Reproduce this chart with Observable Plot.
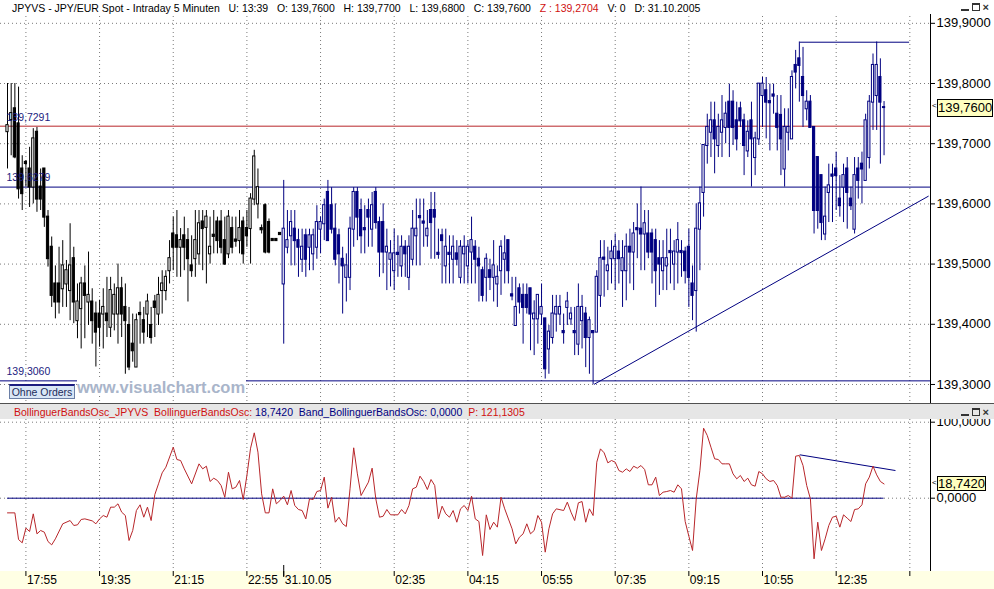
<!DOCTYPE html>
<html><head><meta charset="utf-8">
<script src="https://cdn.jsdelivr.net/npm/d3@7"></script>
<script src="https://cdn.jsdelivr.net/npm/@observablehq/plot@0.6"></script>
<style>
body{margin:0;background:#fff;}
#root{position:relative;width:994px;height:589px;overflow:hidden;background:#fff;font-family:"Liberation Sans",Arial,sans-serif;}
.abs{position:absolute;}
.hdr{white-space:pre;font-size:10.5px;line-height:14px;}
.btns{position:absolute;right:5px;display:flex;gap:3px;align-items:flex-end;}
.b{display:inline-block;width:8px;height:8px;box-sizing:border-box;}
.box{position:absolute;background:#ffffc0;border:1px solid #000;box-sizing:border-box;font-size:13px;text-align:center;color:#000;}
</style></head><body><div id="root"></div>
<script>
// ---- data ----
const open = [
139.720,139.740,139.758,139.733,139.658,139.669,139.658,139.628,139.719,139.628,
139.658,139.578,139.528,139.467,139.467,139.459,139.467,139.456,139.509,139.406,
139.426,139.467,139.437,139.437,139.417,139.417,139.417,139.417,139.395,139.417,
139.417,139.459,139.428,139.398,139.367,139.329,139.418,139.406,139.417,139.398,
139.437,139.417,139.456,139.456,139.489,139.550,139.547,139.528,139.547,139.539,
139.497,139.509,139.517,139.570,139.561,139.517,139.548,139.570,139.570,139.539,
139.517,139.559,139.540,139.539,139.570,139.559,139.559,139.608,139.600,139.559,
139.597,139.569,139.541,139.541,139.551,139.467,139.528,139.547,139.558,139.539,
139.508,139.547,139.528,139.517,139.528,139.558,139.567,139.619,139.597,139.558,
139.547,139.508,139.478,139.478,139.558,139.619,139.589,139.559,139.589,139.558,
139.619,139.569,139.569,139.520,139.508,139.489,139.518,139.497,139.528,139.478,
139.508,139.547,139.579,139.570,139.547,139.589,139.589,139.518,139.547,139.497,
139.518,139.508,139.517,139.478,139.517,139.497,139.520,139.528,139.508,139.489,
139.478,139.489,139.478,139.467,139.489,139.508,139.539,139.449,139.398,139.459,
139.448,139.448,139.459,139.409,139.409,139.417,139.409,139.359,139.378,139.417,
139.417,139.388,139.428,139.409,139.388,139.367,139.406,139.417,139.378,139.388,
139.387,139.448,139.510,139.489,139.509,139.509,139.520,139.489,139.489,139.528,
139.520,139.559,139.558,139.550,139.550,139.550,139.539,139.509,139.489,139.497,
139.521,139.500,139.520,139.521,139.520,139.528,139.467,139.456,139.558,139.619,
139.697,139.719,139.738,139.697,139.719,139.727,139.769,139.769,139.738,139.758,
139.738,139.688,139.738,139.677,139.708,139.780,139.788,139.770,139.781,139.749,
139.747,139.658,139.719,139.708,139.830,139.841,139.810,139.758,139.769,139.727,
139.677,139.647,139.550,139.619,139.648,139.658,139.608,139.628,139.658,139.608,
139.558,139.658,139.666,139.639,139.677,139.769,139.780,139.810,139.760];
const high = [
139.800,139.800,139.800,139.794,139.680,139.672,139.694,139.725,139.727,139.658,
139.658,139.589,139.545,139.497,139.528,139.539,139.506,139.567,139.528,139.467,
139.478,139.497,139.520,139.459,139.437,139.440,139.459,139.478,139.478,139.467,
139.500,139.478,139.467,139.428,139.417,139.417,139.437,139.428,139.450,139.428,
139.448,139.478,139.489,139.489,139.539,139.578,139.589,139.559,139.578,139.559,
139.547,139.589,139.589,139.589,139.589,139.578,139.589,139.578,139.589,139.578,
139.589,139.578,139.578,139.589,139.578,139.589,139.617,139.689,139.658,139.565,
139.600,139.575,139.541,139.541,139.551,139.639,139.589,139.589,139.589,139.558,
139.558,139.558,139.558,139.558,139.597,139.578,139.608,139.639,139.627,139.600,
139.558,139.528,139.517,139.578,139.627,139.627,139.608,139.597,139.608,139.619,
139.627,139.578,139.600,139.558,139.539,139.558,139.547,139.547,139.539,139.547,
139.589,139.608,139.608,139.608,139.589,139.619,139.619,139.558,139.558,139.558,
139.547,139.547,139.539,139.539,139.547,139.539,139.578,139.539,139.528,139.495,
139.517,139.508,139.539,139.497,139.539,139.547,139.539,139.478,139.478,139.467,
139.467,139.467,139.459,139.439,139.448,139.467,139.409,139.398,139.448,139.448,
139.448,139.417,139.453,139.428,139.428,139.467,139.448,139.428,139.412,139.389,
139.489,139.539,139.539,139.528,139.539,139.550,139.539,139.539,139.550,139.558,
139.569,139.600,139.628,139.589,139.589,139.558,139.558,139.539,139.539,139.558,
139.558,139.539,139.569,139.539,139.528,139.558,139.497,139.600,139.628,139.697,
139.749,139.769,139.769,139.749,139.780,139.769,139.799,139.788,139.769,139.769,
139.749,139.738,139.769,139.719,139.799,139.810,139.810,139.799,139.799,139.780,
139.780,139.758,139.758,139.821,139.855,139.869,139.860,139.788,139.780,139.727,
139.677,139.647,139.628,139.666,139.666,139.686,139.647,139.666,139.677,139.628,
139.677,139.677,139.686,139.749,139.780,139.849,139.869,139.841,139.770];
const low = [
139.658,139.680,139.675,139.608,139.589,139.628,139.594,139.600,139.586,139.589,
139.561,139.495,139.428,139.409,139.417,139.428,139.428,139.406,139.401,139.376,
139.359,139.376,139.398,139.367,139.329,139.362,139.359,139.378,139.378,139.389,
139.367,139.378,139.317,139.323,139.337,139.329,139.367,139.367,139.378,139.367,
139.378,139.398,139.417,139.439,139.467,139.489,139.478,139.478,139.489,139.437,
139.478,139.478,139.498,139.489,139.467,139.500,139.517,139.517,139.517,139.498,
139.509,139.517,139.528,139.517,139.500,139.528,139.500,139.597,139.575,139.550,
139.517,139.517,139.539,139.539,139.549,139.367,139.517,139.497,139.497,139.478,
139.486,139.478,139.489,139.489,139.508,139.517,139.539,139.539,139.550,139.497,
139.467,139.417,139.437,139.456,139.528,139.539,139.517,139.517,139.528,139.528,
139.558,139.478,139.484,139.456,139.462,139.456,139.478,139.478,139.478,139.456,
139.497,139.497,139.497,139.528,139.528,139.508,139.508,139.508,139.467,139.467,
139.467,139.467,139.497,139.467,139.467,139.467,139.467,139.467,139.437,139.437,
139.437,139.456,139.437,139.428,139.448,139.467,139.467,139.439,139.398,139.417,
139.367,139.417,139.356,139.348,139.367,139.398,139.309,139.317,139.367,139.387,
139.398,139.367,139.398,139.398,139.348,139.348,139.359,139.328,139.317,139.300,
139.387,139.428,139.445,139.456,139.467,139.456,139.467,139.428,139.439,139.467,
139.456,139.509,139.489,139.489,139.509,139.467,139.428,139.448,139.456,139.456,
139.467,139.456,139.467,139.478,139.467,139.428,139.406,139.387,139.489,139.578,
139.666,139.677,139.650,139.677,139.677,139.700,139.677,139.697,139.688,139.727,
139.647,139.677,139.628,139.647,139.697,139.727,139.708,139.688,139.749,139.688,
139.647,139.628,139.688,139.708,139.791,139.769,139.727,139.738,139.727,139.550,
139.558,139.539,139.539,139.569,139.569,139.589,139.578,139.569,139.558,139.589,
139.550,139.608,139.600,139.639,139.658,139.722,139.722,139.666,139.680];
const close = [
139.730,139.750,139.678,139.625,139.617,139.667,139.628,139.708,139.608,139.608,
139.578,139.509,139.448,139.437,139.437,139.497,139.489,139.497,139.437,139.437,
139.467,139.448,139.448,139.406,139.387,139.395,139.428,139.406,139.456,139.448,
139.459,139.417,139.406,139.329,139.356,139.406,139.416,139.387,139.437,139.378,
139.428,139.448,139.467,139.478,139.509,139.528,139.528,139.539,139.528,139.509,
139.489,139.539,139.567,139.559,139.578,139.528,139.546,139.539,139.528,139.500,
139.578,139.528,139.538,139.559,139.517,139.547,139.608,139.678,139.627,139.557,
139.520,139.520,139.539,139.539,139.549,139.558,139.539,139.569,139.539,139.528,
139.528,139.508,139.547,139.547,139.569,139.569,139.597,139.539,139.558,139.508,
139.517,139.497,139.497,139.558,139.619,139.578,139.547,139.557,139.578,139.597,
139.569,139.520,139.520,139.528,139.517,139.517,139.516,139.528,139.517,139.528,
139.558,139.558,139.577,139.568,139.558,139.569,139.578,139.516,139.539,139.528,
139.516,139.528,139.508,139.528,139.528,139.528,139.539,139.508,139.497,139.448,
139.508,139.478,139.497,139.478,139.528,139.517,139.489,139.447,139.428,139.437,
139.428,139.428,139.417,139.417,139.448,139.428,139.326,139.387,139.417,139.428,
139.428,139.386,139.437,139.417,139.386,139.428,139.428,139.378,139.406,139.386,
139.478,139.509,139.508,139.497,139.520,139.528,139.509,139.509,139.528,139.520,
139.550,139.557,139.550,139.567,139.520,139.520,139.489,139.500,139.509,139.509,
139.519,139.520,139.539,139.519,139.489,139.478,139.448,139.558,139.600,139.697,
139.727,139.738,139.708,139.727,139.738,139.749,139.727,139.727,139.708,139.738,
139.697,139.719,139.708,139.708,139.799,139.799,139.769,139.768,139.779,139.727,
139.708,139.727,139.727,139.810,139.819,139.830,139.780,139.769,139.727,139.589,
139.589,139.569,139.578,139.630,139.646,139.647,139.597,139.647,139.619,139.597,
139.647,139.639,139.658,139.738,139.769,139.830,139.830,139.769,139.760];

// oscillator vertices: [bar, value]
const oscillator = [
[0,-19.3],[2,-19.3],[3,-54.4],[4,-58.7],[5,-39.4],[6,-43.8],[7,-20.6],[8,-46.9],[9,-42.5],[10,-44.7],
[11,-57.0],[12,-61.4],[13,-53.5],[15,-33.7],[17,-29.4],[18,-35.9],[19,-35.1],[20,-28.0],[21,-27.2],[23,-29.8],
[24,-33.7],[25,-27.2],[26,-22.8],[27,-25.0],[28,-11.8],[29,-11.8],[30,-7.4],[31,-18.4],[32,-22.8],[33,-55.7],
[34,-42.5],[35,-16.2],[36,-8.7],[37,-25.0],[38,-11.8],[39,-29.4],[40,4.8],[41,18.9],[42,33.4],[43,40.8],
[45,67.1],[46,50.9],[47,49.6],[48,38.6],[50,18.9],[52,45.2],[53,38.6],[54,42.1],[55,22.0],[56,26.3],
[57,23.3],[58,16.7],[59,1.3],[60,34.2],[61,12.3],[62,14.5],[63,23.3],[64,-1.7],[65,29.9],[66,65.8],
[67,86.0],[68,60.6],[69,5.7],[70,-19.3],[71,-19.3],[72,12.3],[73,-7.4],[74,-3.0],[75,2.7],[76,-8.7],
[77,10.1],[78,-9.6],[79,-14.9],[80,-16.2],[81,-27.2],[82,-0.9],[83,-1.7],[84,8.8],[85,10.1],[86,27.7],
[87,-13.1],[88,1.3],[89,-31.6],[90,-25.0],[91,-33.7],[92,-37.3],[93,12.3],[94,66.3],[95,32.0],[96,3.5],
[98,21.1],[99,39.5],[100,-0.9],[101,-25.0],[102,-23.7],[103,-14.9],[104,-21.9],[106,-21.9],[107,-14.9],[108,-20.6],
[109,-9.6],[110,12.3],[111,14.5],[112,29.0],[113,22.0],[114,11.4],[115,24.6],[116,16.7],[117,-27.2],[118,-10.5],
[119,-20.6],[120,-25.0],[121,-16.2],[122,-31.6],[123,-14.0],[124,-9.6],[125,-16.2],[126,2.7],[127,-27.2],[128,-30.7],
[129,-75.4],[130,-21.9],[131,-41.2],[132,-31.6],[133,-38.1],[134,1.3],[135,-14.0],[137,-40.3],[138,-60.1],[139,-51.3],
[140,-46.9],[141,-33.7],[142,-46.9],[143,-42.5],[144,-22.8],[145,-31.6],[146,-71.0],[147,-40.3],[148,-20.6],[149,-14.0],
[151,-16.2],[152,-5.2],[153,-18.4],[154,-29.4],[155,-6.1],[156,-4.4],[157,-31.6],[158,-14.0],[159,-22.8],[160,47.4],
[161,64.9],[162,59.7],[163,46.5],[164,49.6],[165,47.4],[166,36.4],[167,34.2],[168,38.6],[169,35.1],[170,42.1],
[171,39.5],[172,43.0],[173,37.7],[174,17.6],[175,17.6],[176,27.7],[177,3.5],[178,7.9],[179,8.8],[180,10.1],
[181,7.9],[182,17.6],[183,12.3],[184,-30.7],[185,-50.0],[186,-68.8],[187,-0.9],[188,36.4],[189,92.1],[190,82.5],
[191,67.1],[192,51.8],[193,50.9],[194,45.2],[195,45.2],[196,45.2],[197,32.0],[198,25.5],[199,29.9],[200,22.0],
[201,26.3],[202,17.6],[203,15.8],[204,35.1],[205,32.0],[206,25.5],[207,22.0],[208,23.3],[209,16.7],[210,1.3],
[211,1.3],[212,3.5],[213,0.0],[214,55.3],[215,56.2],[216,43.0],[217,16.7],[218,-0.9],[219,-79.8],[220,-31.6],
[221,-68.8],[222,-53.5],[223,-35.9],[224,-25.0],[225,-23.7],[226,-38.1],[227,-21.9],[228,-26.3],[229,-30.7],[230,-14.9],
[231,-14.0],[232,-8.7],[233,18.9],[234,27.7],[235,42.1],[236,30.7],[237,22.0],[238,18.742]];

const tickBar   = [5, 25, 45, 65, 75, 105, 125, 145, 165, 185, 205, 225, 245];
const tickLabel = ["17:55","19:35","21:15","22:55","31.10.05","02:35","04:15","05:55","07:35","09:15","10:55","12:35",""];
const gridBar   = [5, 25, 45, 65, 85, 105, 125, 145, 165, 185, 205, 225, 245];
const priceTicks = [139.3, 139.4, 139.5, 139.6, 139.7, 139.8, 139.9];
const oscTicks = [0, 100];
const levelValue = [139.7291, 139.6279, 139.3060];
const supportLine = {bar: [159.2, 250.1], price: [139.300, 139.613]};
const topLine = {bar: [215.1, 244.8], price: [139.8686, 139.8686]};
const oscTrend = {bar: [215.1, 241.1], value: [57.1, 36.4]};
const newDayBar = 75;
const lastPrice = 139.7600, lastOsc = 18.7420;

// ---- chart ----
const fmt = v => v.toFixed(4).replace(".", ",");
const bars = open.map((o, i) => ({i, o, h: high[i], l: low[i], c: close[i]}));
const osc = oscillator.map(([b, v]) => ({b, v}));
const NAVY = "#000080", BLACK = "#000000", RED = "#b8262a";
const col = d => d.i < newDayBar ? BLACK : NAVY;
const xDomain = [-7 / 3.683, 923 / 3.683];
const FONT = "'Liberation Sans', Arial, sans-serif";
const dotted = {stroke: "#7a7a7a", strokeDasharray: "1,3"};

const topPlot = Plot.plot({
  width: 994, height: 403, marginLeft: 0, marginRight: 64, marginTop: 0, marginBottom: 0,
  style: {fontFamily: FONT, fontSize: "13px", background: "transparent", color: "#000", overflow: "hidden"},
  color: {type: "identity"},
  x: {domain: xDomain, axis: null},
  y: {domain: [139.2684, 139.9379], axis: "right", ticks: priceTicks, tickFormat: fmt, tickSize: 4, tickPadding: 2, label: null},
  marks: [
    Plot.ruleY(priceTicks, dotted),
    Plot.ruleX(gridBar, dotted),
    Plot.ruleY([levelValue[0]], {stroke: RED}),
    Plot.ruleY(levelValue.slice(1), {stroke: NAVY}),
    Plot.link([supportLine, topLine], {x1: d => d.bar[0], x2: d => d.bar[1], y1: d => d.price[0], y2: d => d.price[1], stroke: NAVY}),
    Plot.ruleX(bars, {x: "i", y1: "l", y2: "h", stroke: col}),
    Plot.rect(bars, {x1: d => d.i - 0.3, x2: d => d.i + 0.3, y1: d => Math.min(d.o, d.c), y2: d => Math.max(d.o, d.c),
      fill: d => d.c > d.o ? "#ffffff" : col(d), stroke: col, insetTop: -0.5, insetBottom: -0.5}),
    Plot.text(levelValue, {y: d => d, text: d => fmt(d), frameAnchor: "left", dx: 6, dy: -9, textAnchor: "start", fill: "#1c1c80", fontSize: 10.5}),
    Plot.ruleX([xDomain[1]], {stroke: "#000"})
  ]
});

const botPlot = Plot.plot({
  width: 994, height: 170, marginLeft: 0, marginRight: 64, marginTop: 0, marginBottom: 18,
  style: {fontFamily: FONT, fontSize: "13px", background: "transparent", color: "#000", overflow: "hidden"},
  color: {type: "identity"},
  x: {domain: xDomain, axis: null},
  y: {domain: [-96.45, 103.55], axis: "right", ticks: oscTicks, tickFormat: fmt, tickSize: 4, tickPadding: 2, label: null},
  marks: [
    Plot.ruleY(oscTicks, dotted),
    Plot.ruleX(gridBar, dotted),
    Plot.ruleY([0], {x1: osc[0].b, x2: osc[osc.length - 1].b, stroke: NAVY}),
    Plot.link([oscTrend], {x1: d => d.bar[0], x2: d => d.bar[1], y1: d => d.value[0], y2: d => d.value[1], stroke: NAVY}),
    Plot.line(osc, {x: "b", y: "v", stroke: RED, strokeWidth: 1}),
    Plot.ruleX([xDomain[1]], {stroke: "#000"}),
    Plot.ruleX(tickBar, {stroke: "#000", insetTop: 152, insetBottom: -5}),
    Plot.ruleX([newDayBar], {stroke: "#000", insetTop: 146, insetBottom: -6}),
    Plot.text(tickBar, {x: d => d, text: (d, i) => tickLabel[i], frameAnchor: "bottom", lineAnchor: "top", textAnchor: "start", dx: 1, dy: 4, fontSize: 12})
  ]
});

const root = document.getElementById("root");
function add(html) { root.insertAdjacentHTML("beforeend", html); }
function btns(top) {
  return `<div class="btns" style="top:${top}px">
    <span class="b" style="border-bottom:2px solid #333"></span>
    <span class="b" style="border:1px solid #333;border-top-width:2px"></span>
    <span style="font:bold 11px/8px ${FONT};color:#333">×</span></div>`;
}

// yellow time strip (behind lower svg)
add(`<div class="abs" style="left:0;top:571px;width:994px;height:18px;background:#ffffe4"></div>`);
topPlot.style.position = "absolute"; topPlot.style.left = "0"; topPlot.style.top = "0";
root.appendChild(topPlot);
botPlot.style.position = "absolute"; botPlot.style.left = "0"; botPlot.style.top = "419px";
root.appendChild(botPlot);

// header
add(`<div class="abs hdr" style="left:0;top:0;width:994px;height:14px;background:#fff;padding-left:12px;box-sizing:border-box;padding-top:1px">JPYVS - JPY/EUR Spot - Intraday 5 Minuten   U: 13:39   O: 139,7600   H: 139,7700   L: 139,6800   C: 139,7600   <span style="color:#d01010">Z : 139,2704</span>   V: 0   D: 31.10.2005</div>`);
add(btns(3));

// panel separator & legend strip
add(`<div class="abs" style="left:0;top:403px;width:994px;height:1px;background:#505050"></div>`);
add(`<div class="abs hdr" style="left:0;top:404px;width:994px;height:15px;background:#e6e6e6;padding-left:14px;box-sizing:border-box;padding-top:1px"><span style="color:#d01010">BollinguerBandsOsc_JPYVS  BollinguerBandsOsc: </span><span style="color:#000080">18,7420  Band_BollinguerBandsOsc: 0,0000  </span><span style="color:#d01010">P: 121,1305</span></div>`);
add(btns(408));

// ohne orders button + watermark
add(`<div class="abs" style="left:77px;top:378px;width:169px;height:18px;background:#fff;color:#a9b5ca;font:bold 16.5px/18px ${FONT};white-space:nowrap">www.visualchart.com</div>`);
add(`<div class="abs" style="left:9px;top:384px;width:66px;height:15px;background:#d9e6f6;border:1px solid #6b7fa6;border-top:2px solid #1c1c80;box-sizing:border-box;color:#1d2d5c;font:10.5px/12px ${FONT};text-align:center;white-space:nowrap">Ohne Orders</div>`);

// last value boxes
const yTop = topPlot.scale("y").apply(lastPrice);
add(`<div class="abs" style="left:932px;top:${yTop - 6}px;font:8px/10px ${FONT}">&lt;</div>`);
add(`<div class="box" style="left:937px;top:${yTop - 8}px;width:56px;height:18px;line-height:16px">${fmt(lastPrice)}</div>`);
const yBot = 419 + botPlot.scale("y").apply(lastOsc);
add(`<div class="abs" style="left:932px;top:${yBot - 5}px;font:8px/10px ${FONT}">&lt;</div>`);
add(`<div class="box" style="left:937px;top:${yBot - 7}px;width:49px;height:15px;line-height:13px">${fmt(lastOsc)}</div>`);
</script></body></html>
